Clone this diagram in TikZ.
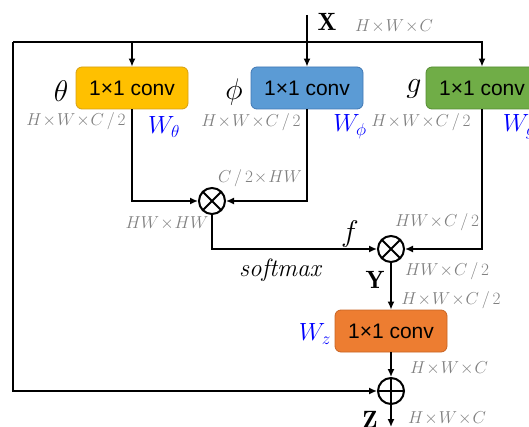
\documentclass[tikz,border=0pt]{standalone}
\usepackage{fontspec}
\newfontfamily\convfont{Liberation Sans}
\usepackage{xcolor}
\usetikzlibrary{arrows.meta,positioning,calc}
\definecolor{thetafill}{RGB}{255,192,0}
\definecolor{thetaline}{RGB}{214,160,20}
\definecolor{phifill}{RGB}{91,155,213}
\definecolor{philine}{RGB}{65,120,180}
\definecolor{gfill}{RGB}{112,173,71}
\definecolor{gline}{RGB}{85,140,50}
\definecolor{zfill}{RGB}{237,125,49}
\definecolor{zline}{RGB}{200,100,35}
\definecolor{dimgray}{RGB}{128,128,128}
\newcommand{\bigsym}[1]{\scalebox{1.2}{$#1$}}
\tikzset{
  convbox/.style={
    draw,
    line width=0.8pt,
    rounded corners=6pt,
    minimum width=112pt,
    minimum height=42pt,
    inner sep=0pt,
    font=\fontsize{21}{24}\convfont
  },
  opnode/.style={
    circle,
    draw,
    line width=2pt,
    minimum size=26pt,
    inner sep=0pt
  },
  mulnode/.style={
    opnode,
    path picture={\draw[line width=2pt]
      (path picture bounding box.north west) -- (path picture bounding box.south east)
      (path picture bounding box.north east) -- (path picture bounding box.south west);}
  },
  addnode/.style={
    opnode,
    path picture={\draw[line width=2pt]
      (path picture bounding box.north) -- (path picture bounding box.south)
      (path picture bounding box.west) -- (path picture bounding box.east);}
  },
  dimlabel/.style={text=dimgray, font=\fontsize{17}{19}\selectfont, inner sep=0pt},
  weightlabel/.style={text=blue, font=\fontsize{25}{27}\selectfont, inner sep=0pt},
  symlabel/.style={font=\fontsize{25}{27}\selectfont, inner sep=0pt},
  arrow/.style={-{Latex[length=8pt,width=7pt]}, line width=1.5pt}
}

\begin{document}
\begin{tikzpicture}[x=1pt, y=-1pt]
  \useasboundingbox (0,0) rectangle (529,427);
  \clip (0,0) rectangle (529,427);

  \node[convbox, fill=thetafill, draw=thetaline] (thetaconv) at (132,88) {1×1 conv};
  \node[convbox, fill=phifill, draw=philine] (phiconv) at (307,88) {1×1 conv};
  \node[convbox, fill=gfill, draw=gline] (gconv) at (482,88) {1×1 conv};
  \node[mulnode] (mulA) at (212,201) {};
  \node[mulnode] (mulB) at (391,249) {};
  \node[convbox, fill=zfill, draw=zline] (zconv) at (391,331) {1×1 conv};
  \node[addnode] (plus) at (391,391) {};

  \coordinate (xin) at (307,15);
  \coordinate (xsplit) at (307,42);
  \coordinate (loopcorner) at (13,42);
  \coordinate (zout) at (391,427);

  \node[symlabel] (xlab) at (327,22) {$\mathbf{X}$};
  \node[dimlabel] (xdim) at (394,26) {$H\!\times\! W\!\times\! C$};
  \node[symlabel] (thetalab) at (61,91) {\bigsym{\theta}};
  \node[symlabel] (philab) at (234,92) {\bigsym{\phi}};
  \node[symlabel] (glab) at (414,89) {\bigsym{g}};
  \node[dimlabel] (thetadim) at (76,121) {$H\!\times\! W\!\times\! C\,/\,2$};
  \node[dimlabel] (phidim) at (251,122) {$H\!\times\! W\!\times\! C\,/\,2$};
  \node[dimlabel] (gdim) at (421,122) {$H\!\times\! W\!\times\! C\,/\,2$};
  \node[weightlabel] (wtheta) at (164,127) {$W_\theta$};
  \node[weightlabel] (wphi) at (350,127) {$W_\phi$};
  \node[weightlabel] (wg) at (519,127) {$W_g$};
  \node[dimlabel] (adim) at (260,178) {$C\,/\,2\!\times\! HW$};
  \node[dimlabel] (hwhw) at (167,223) {$HW\!\times\! HW$};
  \node[symlabel] (flab) at (350,234) {\bigsym{f}};
  \node[symlabel] (softlab) at (280,270) {$\mathit{softmax}$};
  \node[dimlabel] (bdimin) at (437,222) {$HW\!\times\! C\,/\,2$};
  \node[dimlabel] (bdimout) at (447,271) {$HW\!\times\! C\,/\,2$};
  \node[symlabel] (ylab) at (375,280) {$\mathbf{Y}$};
  \node[dimlabel] (ydim) at (451,300) {$H\!\times\! W\!\times\! C\,/\,2$};
  \node[weightlabel] (wz) at (315,334) {$W_z$};
  \node[dimlabel] (zdim) at (449,368) {$H\!\times\! W\!\times\! C$};
  \node[symlabel] (zlab) at (370,420) {$\mathbf{Z}$};
  \node[dimlabel] (outdim) at (447,418) {$H\!\times\! W\!\times\! C$};

  \draw[arrow] (xin) -- (phiconv.north);
  \draw[arrow] (xsplit) -| (gconv.north);
  \draw[line width=1.5pt] (xsplit) -- (loopcorner);
  \draw[arrow] (thetaconv.north |- loopcorner) -- (thetaconv.north);
  \draw[arrow] (loopcorner) |- (plus.west);
  \draw[arrow] (thetaconv.south) |- (mulA.west);
  \draw[arrow] (phiconv.south) |- (mulA.east);
  \draw[arrow] (mulA.south) |- (mulB.west);
  \draw[arrow] (gconv.south) |- (mulB.east);
  \draw[arrow] (mulB.south) -- (zconv.north);
  \draw[arrow] (zconv.south) -- (plus.north);
  \draw[arrow] (plus.south) -- (zout);
\end{tikzpicture}
\end{document}
